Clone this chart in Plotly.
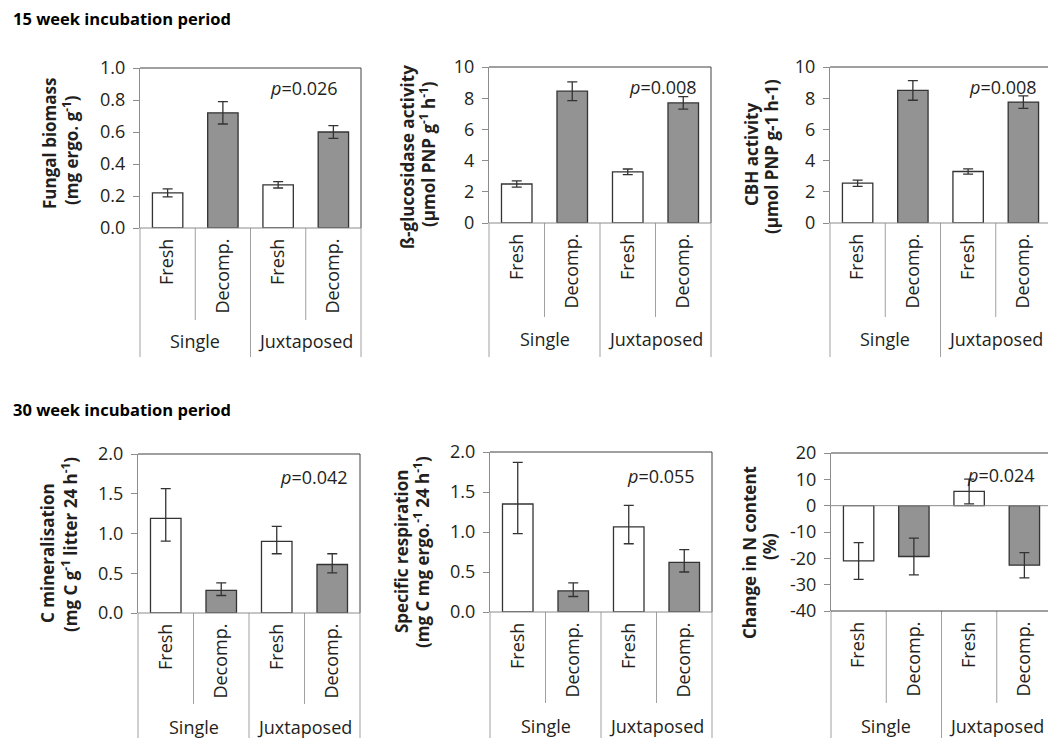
import plotly.graph_objects as go

W, H = 1048, 738

# ---------------- data ----------------
categories = ["Fresh", "Decomp.", "Fresh", "Decomp."]
groups = ["Single", "Juxtaposed"]
litter_kind = ["fresh", "decomp", "fresh", "decomp"]

fungal_biomass = [0.22, 0.72, 0.27, 0.60]
fungal_biomass_err = [0.025, 0.07, 0.02, 0.04]

bglucosidase = [2.5, 8.45, 3.28, 7.7]
bglucosidase_err = [0.2, 0.6, 0.18, 0.4]

cbh_activity = [2.55, 8.5, 3.3, 7.75]
cbh_activity_err = [0.2, 0.63, 0.17, 0.4]

c_mineralisation = [1.19, 0.285, 0.90, 0.61]
c_mineralisation_err_plus = [0.375, 0.095, 0.19, 0.135]
c_mineralisation_err_minus = [0.285, 0.065, 0.155, 0.105]

specific_respiration = [1.35, 0.264, 1.063, 0.62]
specific_respiration_err_plus = [0.52, 0.10, 0.27, 0.16]
specific_respiration_err_minus = [0.37, 0.07, 0.21, 0.12]

n_change = [-21.0, -19.3, 5.4, -22.6]
n_change_err = [7.0, 7.0, 4.7, 4.8]

p_values = ["0.026", "0.008", "0.008", "0.042", "0.055", "0.024"]

n_ticks = [-40, -30, -20, -10, 0, 10, 20]
n_tick_labels = ["-40", "-30", "-20", "-10", "0", "10", "20"]

# ---------------- styles ----------------
FONT = "Open Sans"
TXT = "#231f20"
AXIS = "#8c8c8c"
SEP = "#a0a0a0"
BORDER = "#404040"
GRAY_BAR = "#939393"
fills = {"fresh": "#ffffff", "decomp": GRAY_BAR}

# panel geometry in pixels: left, right(virtual), top, bottom, inner-sep bottom, category bottom
panels = [
    dict(L=140, R=361, T=68, B=228, IB=320, CB=357, yr=[0, 1], dtick=0.2, fmt=".1f",
         y=fungal_biomass, ep=fungal_biomass_err, em=fungal_biomass_err,
         t1="Fungal biomass", t2="(mg ergo. g<sup>-1</sup>)",
         t1x=50, t1y=144, t2x=70, t2y=150, px=304, py=88, gy=341),
    dict(L=489, R=711, T=67, B=223, IB=317, CB=357, yr=[0, 10], dtick=2, fmt="d",
         y=bglucosidase, ep=bglucosidase_err, em=bglucosidase_err,
         t1="ß-glucosidase activity", t2="(µmol PNP g<sup>-1</sup> h<sup>-1</sup>)",
         t1x=407, t1y=157, t2x=427, t2y=154, px=663, py=87, gy=339),
    dict(L=830, R=1051, T=67, B=223, IB=317, CB=357, yr=[0, 10], dtick=2, fmt="d",
         y=cbh_activity, ep=cbh_activity_err, em=cbh_activity_err,
         t1="CBH activity", t2="(µmol PNP g-1 h-1)",
         t1x=752, t1y=155, t2x=771, t2y=157, px=1003, py=87, gy=339),
    dict(L=138, R=360, T=454, B=613, IB=704, CB=738, yr=[0, 2], dtick=0.5, fmt=".1f",
         y=c_mineralisation, ep=c_mineralisation_err_plus, em=c_mineralisation_err_minus,
         t1="C mineralisation", t2="(mg C g<sup>-1</sup> litter 24 h<sup>-1</sup>)",
         t1x=47, t1y=553, t2x=69, t2y=545, px=314, py=477, gy=727),
    dict(L=490, R=712, T=452, B=612, IB=703, CB=738, yr=[0, 2], dtick=0.5, fmt=".1f",
         y=specific_respiration, ep=specific_respiration_err_plus, em=specific_respiration_err_minus,
         t1="Specific respiration", t2="(mg C mg ergo.<sup>-1</sup> 24 h<sup>-1</sup>)",
         t1x=401, t1y=552, t2x=421, t2y=552, px=661, py=476, gy=726),
    dict(L=831, R=1052, T=453, B=611, IB=703, CB=738, yr=[-40, 20], dtick=10, fmt=None,
         y=n_change, ep=n_change_err, em=n_change_err,
         t1="Change in N content", t2="(%)",
         t1x=749, t1y=553, t2x=769, t2y=547, px=1001, py=475, gy=726),
]


def px_x(v):
    return v / W


def px_y(v):
    return 1 - v / H


fig = go.Figure()
shapes = []
annotations = []
layout = {}

for i, p in enumerate(panels, start=1):
    xa = "x" if i == 1 else f"x{i}"
    ya = "y" if i == 1 else f"y{i}"
    xkey = "xaxis" if i == 1 else f"xaxis{i}"
    ykey = "yaxis" if i == 1 else f"yaxis{i}"
    L, R, T, B = p["L"], p["R"], p["T"], p["B"]
    cw = (R - L) / 4.0
    right_vis = min(R, W)
    xmax = -0.5 + (right_vis - L) / cw

    fig.add_trace(go.Bar(
        x=list(range(len(categories))), y=p["y"],
        marker=dict(color=[fills[k] for k in litter_kind],
                    line=dict(color="#333333", width=1.3)),
        width=0.55,
        error_y=dict(type="data", symmetric=False, array=p["ep"], arrayminus=p["em"],
                     color="#333333", thickness=1.3, width=5),
        xaxis=xa, yaxis=ya, showlegend=False, hoverinfo="skip",
    ))

    layout[xkey] = dict(
        domain=[px_x(L), px_x(right_vis)], range=[-0.5, xmax], anchor=ya,
        tickvals=list(range(len(categories))), ticktext=categories, tickangle=-90,
        ticks="", showline=False, showgrid=False, zeroline=False,
        tickfont=dict(family=FONT, size=18, color=TXT), ticklabelstandoff=6,
        fixedrange=True, automargin=False,
    )
    yax = dict(
        domain=[px_y(B), px_y(T)], range=p["yr"], anchor=xa,
        showline=True, linecolor=AXIS, linewidth=1,
        ticks="outside", ticklen=6, tickcolor=AXIS, tickwidth=1,
        showgrid=False, zeroline=False,
        tickfont=dict(family=FONT, size=18, color=TXT), ticklabelstandoff=4,
        fixedrange=True, automargin=False,
    )
    if p["fmt"] is None:
        yax.update(tickmode="array", tickvals=n_ticks, ticktext=n_tick_labels)
    else:
        yax.update(dtick=p["dtick"], tick0=0, tickformat=p["fmt"])
    layout[ykey] = yax

    def vline(xp, y0, y1, color, w=1):
        shapes.append(dict(type="line", xref="paper", yref="paper",
                           x0=px_x(xp), x1=px_x(xp), y0=px_y(y0), y1=px_y(y1),
                           line=dict(color=color, width=w)))

    def hline(yp, x0, x1, color, w=1):
        shapes.append(dict(type="line", xref="paper", yref="paper",
                           x0=px_x(x0), x1=px_x(x1), y0=px_y(yp), y1=px_y(yp),
                           line=dict(color=color, width=w)))

    # box borders
    hline(T, L, right_vis, BORDER)
    if R <= W:
        vline(R, T, B, BORDER)
    # category region separators
    vline(L, B, p["CB"], SEP)
    vline(L + 2 * cw, B, p["CB"], SEP)
    if R <= W:
        vline(R, B, p["CB"], SEP)
    vline(L + cw, B, p["IB"], SEP)
    vline(L + 3 * cw, B, p["IB"], SEP)
    if i == 6:
        hline(B, L, right_vis, BORDER)
        shapes.append(dict(type="line", xref="paper", yref=ya,
                           x0=px_x(L), x1=px_x(right_vis), y0=0, y1=0,
                           line=dict(color=AXIS, width=1)))
    else:
        hline(B, L, right_vis, AXIS)

    # group labels
    for g, gi in zip(groups, [1, 3]):
        annotations.append(dict(text=g, xref="paper", yref="paper",
                                x=px_x(L + gi * cw), y=px_y(p["gy"]),
                                xanchor="center", yanchor="middle", showarrow=False,
                                font=dict(family=FONT, size=18, color=TXT)))
    # axis titles (two lines)
    for txt, tx, ty in [(p["t1"], p["t1x"], p["t1y"]), (p["t2"], p["t2x"], p["t2y"])]:
        annotations.append(dict(text=f"<b>{txt}</b>", xref="paper", yref="paper",
                                x=px_x(tx), y=px_y(ty), textangle=-90,
                                xanchor="center", yanchor="middle", showarrow=False,
                                font=dict(family=FONT, size=17, color=TXT)))
    # p-values
    annotations.append(dict(text=f"<i>p</i>={p_values[i - 1]}", xref="paper", yref="paper",
                            x=px_x(p["px"]), y=px_y(p["py"]),
                            xanchor="center", yanchor="middle", showarrow=False,
                            font=dict(family=FONT, size=18, color=TXT)))

# period headings
for txt, yy in [("15 week incubation period", 19), ("30 week incubation period", 409)]:
    annotations.append(dict(text=f"<b>{txt}</b>", xref="paper", yref="paper",
                            x=px_x(11), y=px_y(yy), xanchor="left", yanchor="middle",
                            showarrow=False, font=dict(family=FONT, size=16.5, color="#000000")))

fig.update_layout(
    width=W, height=H, autosize=False,
    margin=dict(l=0, r=0, t=0, b=0, pad=0, autoexpand=False),
    paper_bgcolor="white", plot_bgcolor="white",
    shapes=shapes, annotations=annotations,
    bargap=0.45,
    **layout,
)

fig.write_html(
    "out.html",
    config={"displayModeBar": False},
    post_script="document.body.style.margin='0';document.body.style.overflow='hidden';",
)
